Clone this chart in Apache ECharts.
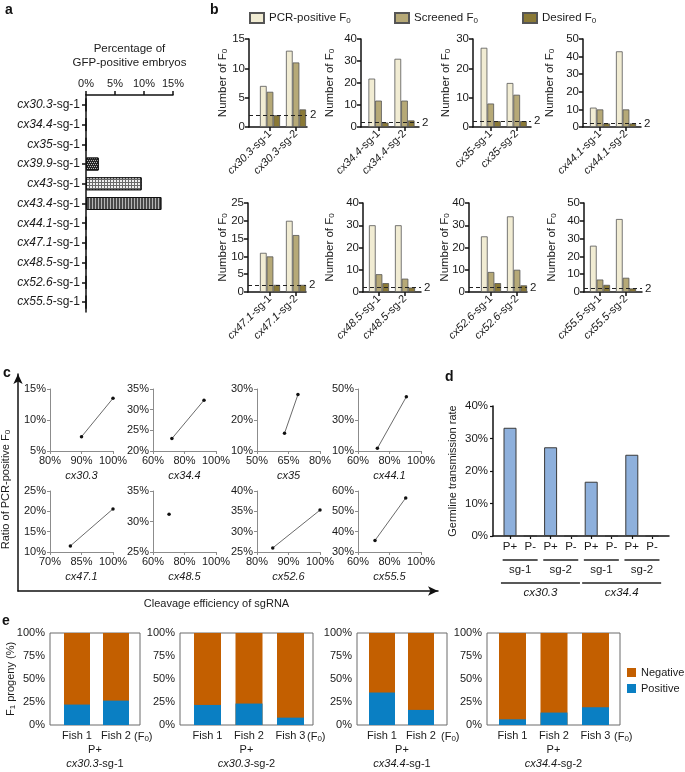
<!DOCTYPE html>
<html>
<head>
<meta charset="utf-8">
<script src="https://cdn.jsdelivr.net/npm/echarts@6.0.0/dist/echarts.min.js"></script>
<style>
html,body{margin:0;padding:0;background:#ffffff;}
#chart{width:685px;height:772px;}
</style>
</head>
<body>
<div id="chart"></div>
<script>
// ================= DATA =================
// Panel a
const aCategories = ['cx30.3-sg-1','cx34.4-sg-1','cx35-sg-1','cx39.9-sg-1','cx43-sg-1','cx43.4-sg-1','cx44.1-sg-1','cx47.1-sg-1','cx48.5-sg-1','cx52.6-sg-1','cx55.5-sg-1'];
const aGfpPositive = [0, 0, 0, 2.2, 9.6, 13.0, 0, 0, 0, 0, 0];
const aTitle = 'Percentage of\nGFP-positive embryos';

// Panel b
const bGenes = ['cx30.3','cx34.4','cx35','cx44.1','cx47.1','cx48.5','cx52.6','cx55.5'];
const bGuides = ['sg-1','sg-2'];
const bSeriesNames = ['PCR-positive F0','Screened F0','Desired F0'];
const bPcrPositive = [[7,13],[22,31],[27,15],[11,43],[11,20],[30,30],[25,34],[26,41]];
const bScreened    = [[6,11],[12,12],[8,11],[10,10],[10,16],[8,6],[9,10],[7,8]];
const bDesired     = [[2,3],[2,3],[2,2],[2,2],[2,2],[4,2],[4,3],[4,2]];
const bYMax  = [15,40,30,50,25,40,40,50];
const bYStep = [5,10,10,10,5,10,10,10];
const bThreshold = 2;
const bYName = 'Number of F0';

// Panel c
const cGenes = ['cx30.3','cx34.4','cx35','cx44.1','cx47.1','cx48.5','cx52.6','cx55.5'];
const cCleavage = [[90,100],[72,92.4],[63.1,69.5],[72.3,90.7],[79.7,100],[70.2],[85,100],[70.8,90.3]];
const cRatio    = [[7.3,13.5],[23.0,32.3],[15.7,28.2],[11.7,45.0],[11.5,20.6],[31.2],[26.0,35.3],[35.7,56.6]];
const cXTicks = [[80,90,100],[60,80,100],[50,65,80],[60,80,100],[70,85,100],[60,80,100],[80,90,100],[60,80,100]];
const cYTicks = [[5,10,15],[20,25,30,35],[10,20,30],[10,30,50],[10,15,20,25],[25,30,35],[25,30,35,40],[30,40,50,60]];
const cXName = 'Cleavage efficiency of sgRNA';
const cYName = 'Ratio of PCR-positive F0';

// Panel d
const dLabels = ['P+','P-','P+','P-','P+','P-','P+','P-'];
const dRates  = [33.3, 0, 27.3, 0, 16.7, 0, 25.0, 0];
const dGuides = ['sg-1','sg-2','sg-1','sg-2'];
const dGenes  = ['cx30.3','cx34.4'];
const dYName = 'Germline transmission rate';

// Panel e
const eGroups = ['cx30.3-sg-1','cx30.3-sg-2','cx34.4-sg-1','cx34.4-sg-2'];
const eParent = ['P+','P+','P+','P+'];
const eFish = [['Fish 1','Fish 2'],['Fish 1','Fish 2','Fish 3'],['Fish 1','Fish 2'],['Fish 1','Fish 2','Fish 3']];
const ePositive = [[22.2,26.5],[21.8,23.3,8.0],[35.3,16.4],[6.2,13.5,19.3]];
const eNegative = [[77.8,73.5],[78.2,76.7,92.0],[64.7,83.6],[93.8,86.5,80.7]];
const eYName = 'F1 progeny (%)';
const eSeriesNames = ['Negative','Positive'];

// ================= STYLE / LAYOUT =================
const FONT = '"Liberation Sans", Arial, Helvetica, sans-serif';
const INK = '#1a1a1a';
function ts(size, extra){ return Object.assign({fontSize:size, color:INK, fontFamily:FONT}, extra||{}); }
function rich(size, lh){
  const e = lh ? {lineHeight:lh} : {};
  return {
    i: ts(size, Object.assign({fontStyle:'italic'}, e)),
    n: ts(size, e),
    s: ts(Math.round(size*0.7), Object.assign({padding:[Math.round(size*0.45),0,0,0]}, e))
  };
}
const subF = t => t.replace(/F([01])/, 'F{s|$1}');
const italicHead = t => { const k = t.indexOf('-'); return '{i|' + t.slice(0,k) + '}{n|' + t.slice(k) + '}'; };

const grid=[], xAxis=[], yAxis=[], series=[];
function addGrid(g){ grid.push(Object.assign({outerBoundsMode:'none', containLabel:false}, g)); return grid.length-1; }
function addX(o){ xAxis.push(Object.assign({splitLine:{show:false}, nameMoveOverlap:false}, o)); return xAxis.length-1; }
function addY(o){ yAxis.push(Object.assign({splitLine:{show:false}, nameMoveOverlap:false}, o)); return yAxis.length-1; }
const line = (c,w) => ({show:true, onZero:false, lineStyle:{color:c, width:w}});
const tick = (c,w,len,extra) => Object.assign({show:true, length:len, lineStyle:{color:c, width:w}}, extra||{});

// ---------- Panel a ----------
const aDecal = {
  'cx39.9-sg-1': {color:'#262626', decal:{symbol:'rect', symbolSize:1, color:'rgba(255,255,255,0.7)', dashArrayX:[[1,1],[0,1,1,0]], dashArrayY:[1,1]}},
  'cx43-sg-1':   {color:'#6a6a6a', decal:{symbol:'rect', symbolSize:1, color:'#f0f0f0', dashArrayX:[2,1], dashArrayY:[2,1]}},
  'cx43.4-sg-1': {color:'#4a4a4a', decal:{symbol:'rect', symbolSize:1, color:'#b5b5b5', dashArrayX:[1,0], dashArrayY:[1,1.5], rotation:Math.PI/2}}
};
{
  const g = addGrid({left:86, top:95, width:87, height:217});
  const xi = addX({gridIndex:g, type:'value', position:'top', min:0, max:15, interval:5,
    axisLine:line('#111',1.5), axisTick:tick('#111',1.5,4),
    axisLabel:Object.assign({formatter:'{value}%', margin:6}, ts(11)),
    name:aTitle, nameLocation:'middle', nameGap:25, nameTextStyle:ts(11.5,{lineHeight:14})});
  const yi = addY({gridIndex:g, type:'category', data:aCategories, inverse:true,
    axisLine:line('#111',1.5), axisTick:tick('#111',1.5,4,{alignWithLabel:true}),
    axisLabel:{interval:0, margin:6, formatter:italicHead, rich:rich(12)}});
  series.push({type:'bar', xAxisIndex:xi, yAxisIndex:yi, barWidth:13,
    data: aGfpPositive.map((v,k)=>{
      const st = aDecal[aCategories[k]] || {color:'#555'};
      return {value:v, itemStyle:Object.assign({borderColor:'#111', borderWidth:1}, st)};
    }),
    itemStyle:{borderColor:'#111', borderWidth:1}});
}

// ---------- Panel b ----------
const bLeft  = [249,361,473,583,248,363,469,584];
const bTick1 = [270,378.5,490.7,600,270,379,491,600];
const bNameGap = [20,25,21,27,19,27,18,26];
const B_UNIT = 26, B_W = 58;
const bColors = ['#f1ecd3','#b6a977','#8a7936'];
const bLegendLeft = [249,394,522];
for (let i=0;i<8;i++){
  const row = i<4 ? 0 : 1;
  const g = addGrid({left:bLeft[i], top: row ? 203 : 39, width:B_W, height: row ? 89 : 88});
  const mn = 1 - (bTick1[i]-bLeft[i])/B_UNIT;
  const xi = addX({gridIndex:g, type:'value', position:'bottom', min:mn, max:mn + B_W/B_UNIT,
    axisLine:line('#111',1.5), axisTick:tick('#111',1.5,4,{customValues:[1,2]}),
    axisLabel:{customValues:[1,2], rotate:45, margin:5,
      formatter: v => '{i|' + bGenes[i] + '}{n|-' + bGuides[Math.round(v)-1] + '}', rich:rich(11)}});
  const yi = addY({gridIndex:g, type:'value', min:0, max:bYMax[i], interval:bYStep[i],
    axisLine:line('#111',1.5), axisTick:tick('#111',1.5,4),
    axisLabel:Object.assign({margin:4}, ts(11.5)),
    name:subF(bYName), nameLocation:'middle', nameGap:bNameGap[i],
    nameTextStyle:Object.assign(ts(11.5), {rich:rich(11.5)})});
  const sets = [bPcrPositive[i], bScreened[i], bDesired[i]];
  for (let s=0;s<3;s++){
    const ser = {type:'bar', name:bSeriesNames[s], xAxisIndex:xi, yAxisIndex:yi, barWidth:6.7, barGap:'0%', clip:false,
      data: sets[s].map((v,j)=>[j+1, v]),
      itemStyle:{color:bColors[s], borderColor:'#555', borderWidth:0.8}};
    if (s===2) ser.markLine = {silent:true, symbol:'none', animation:false,
      lineStyle:{type:[4,3], color:'#222', width:1},
      label:Object.assign({show:true, position:'end', distance:3, formatter:String(bThreshold)}, ts(11.5)),
      data:[{yAxis:bThreshold}]};
    series.push(ser);
  }
}

// ---------- Panel c ----------
{
  const g = addGrid({left:18, top:374, width:420, height:217});
  addX({gridIndex:g, type:'value', position:'bottom', min:0, max:1,
    axisLine:{show:true, onZero:false, symbol:['none','arrow'], symbolSize:[7,10], lineStyle:{color:'#111', width:1.5}},
    axisTick:{show:false}, axisLabel:{show:false},
    name:cXName, nameLocation:'middle', nameGap:7, nameTextStyle:ts(11,{padding:[0,23,0,0]})});
  addY({gridIndex:g, type:'value', min:0, max:1,
    axisLine:{show:true, onZero:false, symbol:['none','arrow'], symbolSize:[7,10], lineStyle:{color:'#111', width:1.5}},
    axisTick:{show:false}, axisLabel:{show:false},
    name:subF(cYName), nameLocation:'middle', nameGap:6,
    nameTextStyle:Object.assign(ts(11,{padding:[0,14,0,0]}), {rich:rich(11)})});
}
const cLeft = [50,153,257,358], cTop = [389,491];
const CGREY = '#8c8c8c';
for (let i=0;i<8;i++){
  const xt = cXTicks[i], yt = cYTicks[i];
  const g = addGrid({left:cLeft[i%4], top:cTop[i<4?0:1], width:63, height:i<4?62:61});
  const xi = addX({gridIndex:g, type:'value', position:'bottom', min:xt[0], max:xt[xt.length-1],
    axisLine:line(CGREY,1), axisTick:tick(CGREY,1,3,{customValues:xt}),
    axisLabel:Object.assign({customValues:xt, formatter:'{value}%', margin:4}, ts(11)),
    name:cGenes[i], nameLocation:'middle', nameGap:19, nameTextStyle:ts(11,{fontStyle:'italic'})});
  const yi = addY({gridIndex:g, type:'value', min:yt[0], max:yt[yt.length-1],
    axisLine:line(CGREY,1), axisTick:tick(CGREY,1,3,{customValues:yt}),
    axisLabel:Object.assign({customValues:yt, formatter:'{value}%', margin:4}, ts(11))});
  series.push({type:'line', xAxisIndex:xi, yAxisIndex:yi, clip:false, symbol:'circle', symbolSize:3.5,
    data: cCleavage[i].map((x,j)=>[x, cRatio[i][j]]),
    itemStyle:{color:'#111'}, lineStyle:{color:'#444', width:0.8}});
}

// ---------- Panel d ----------
{
  const D_LEFT=493, D_W=176, D_UNIT=20.3, D_FIRST=510;
  const g = addGrid({left:D_LEFT, top:406, width:D_W, height:130});
  const mn = 1 - (D_FIRST-D_LEFT)/D_UNIT, mx = mn + D_W/D_UNIT;
  const pos = dLabels.map((_,k)=>k+1);
  const guidePos = dGuides.map((_,k)=>2*k+1.5);
  const genePos = dGenes.map((_,k)=>4*k+2.5);
  const xi = addX({gridIndex:g, type:'value', position:'bottom', min:mn, max:mx,
    axisLine:line('#111',1.5), axisTick:tick('#111',1.2,3,{customValues:pos}),
    axisLabel:Object.assign({customValues:pos, margin:5, formatter:v=>dLabels[Math.round(v)-1]}, ts(11.5))});
  addX({gridIndex:g, type:'value', position:'bottom', min:mn, max:mx,
    axisLine:{show:false}, axisTick:{show:false},
    axisLabel:{customValues:guidePos, margin:22,
      formatter:v=>'{l| }\n{t|' + dGuides[Math.round((v-1.5)/2)] + '}',
      rich:{l:{width:35, height:1.6, lineHeight:4, backgroundColor:'#222'}, t:ts(11.5,{lineHeight:15})}}});
  addX({gridIndex:g, type:'value', position:'bottom', min:mn, max:mx,
    axisLine:{show:false}, axisTick:{show:false},
    axisLabel:{customValues:genePos, margin:45,
      formatter:v=>'{l| }\n{t|' + dGenes[Math.round((v-2.5)/4)] + '}',
      rich:{l:{width:79, height:1.6, lineHeight:4, backgroundColor:'#222'}, t:ts(11.5,{lineHeight:15, fontStyle:'italic'})}}});
  const yi = addY({gridIndex:g, type:'value', min:0, max:40, interval:10,
    axisLine:line('#111',1.5), axisTick:tick('#111',1.2,3),
    axisLabel:Object.assign({formatter:'{value}%', margin:5}, ts(11.5)),
    name:dYName, nameLocation:'middle', nameGap:35, nameTextStyle:ts(11)});
  series.push({type:'bar', xAxisIndex:xi, yAxisIndex:yi, barWidth:13, clip:false,
    data: dRates.map((v,k)=>[k+1, v]),
    itemStyle:{color:'#8eb0dc', borderColor:'#3a3a3a', borderWidth:1}});
}

// ---------- Panel e ----------
const eLeft = [50,180,357,487], eRight = [140,313,447,620];
const eFirst = [77,207.5,382,512.5], eUnit = [39,41.5,39,41.5], eBarW = [26,27,26,27];
const eColors = {Negative:'#c35f00', Positive:'#0a7fc3'};
for (let i=0;i<4;i++){
  const W = eRight[i]-eLeft[i];
  const g = addGrid({left:eLeft[i], top:633, width:W, height:92, show:true, borderColor:'#6a6a6a', borderWidth:1, backgroundColor:'rgba(0,0,0,0)'});
  const mn = 1 - (eFirst[i]-eLeft[i])/eUnit[i], mx = mn + W/eUnit[i];
  const pos = eFish[i].map((_,j)=>j+1);
  const xi = addX({gridIndex:g, type:'value', position:'bottom', min:mn, max:mx,
    axisLine:{show:false}, axisTick:{show:false},
    axisLabel:Object.assign({customValues:pos, margin:5, formatter:v=>eFish[i][Math.round(v)-1]}, ts(11)),
    name:'(F{s|0})', nameLocation:'end', nameGap:-6,
    nameTextStyle:Object.assign(ts(11,{verticalAlign:'top', padding:[5,0,0,0]}), {rich:rich(11)})});
  addX({gridIndex:g, type:'value', position:'bottom', min:mn, max:mx,
    axisLine:{show:false}, axisTick:{show:false}, axisLabel:{show:false},
    name: eParent[i] + '\n' + italicHead(eGroups[i]), nameLocation:'middle', nameGap:18,
    nameTextStyle:Object.assign(ts(11,{lineHeight:14}), {rich:rich(11,14)})});
  const yAx = {gridIndex:g, type:'value', min:0, max:100, interval:25,
    axisLine:{show:false}, axisTick:{show:false},
    axisLabel:Object.assign({formatter:'{value}%', margin:5}, ts(11))};
  if (i===0) Object.assign(yAx, {name:subF(eYName), nameLocation:'middle', nameGap:33,
    nameTextStyle:Object.assign(ts(11), {rich:rich(11)})});
  const yi = addY(yAx);
  // stacked bars: Negative segment sits on top of Positive (cumulative top drawn first, Positive overlaid)
  series.push({type:'bar', name:'Negative', xAxisIndex:xi, yAxisIndex:yi, barWidth:eBarW[i], barGap:'-100%', clip:false,
    data: eNegative[i].map((v,j)=>[j+1, ePositive[i][j] + v]), itemStyle:{color:eColors.Negative}});
  series.push({type:'bar', name:'Positive', xAxisIndex:xi, yAxisIndex:yi, barWidth:eBarW[i], barGap:'-100%', clip:false,
    data: ePositive[i].map((v,j)=>[j+1, v]), itemStyle:{color:eColors.Positive}});
}

// ---------- titles & legends ----------
const title = [['a',5,3],['b',210,3],['c',3,366],['d',445,370],['e',2,614]].map(([t,l,tp])=>({
  text:t, left:l, top:tp, padding:0, textStyle:{fontSize:14, fontWeight:'bold', color:'#111', fontFamily:FONT}}));
const legend = bSeriesNames.map((nm,k)=>({
  data:[nm], left:bLegendLeft[k], top:12, padding:0, itemWidth:14, itemHeight:10, icon:'rect', selectedMode:false,
  formatter:n=>subF(n), textStyle:Object.assign(ts(11.5), {rich:rich(11.5)})}));
legend.push({data:eSeriesNames, orient:'vertical', left:627, top:667, padding:0, itemWidth:9, itemHeight:9, itemGap:5,
  icon:'rect', selectedMode:false, textStyle:ts(11)});

const chart = echarts.init(document.getElementById('chart'), null, {renderer:'canvas'});
chart.setOption({
  animation:false, backgroundColor:'#ffffff',
  textStyle:{fontFamily:FONT, color:INK},
  title, legend, grid, xAxis, yAxis, series
});
</script>
</body>
</html>
